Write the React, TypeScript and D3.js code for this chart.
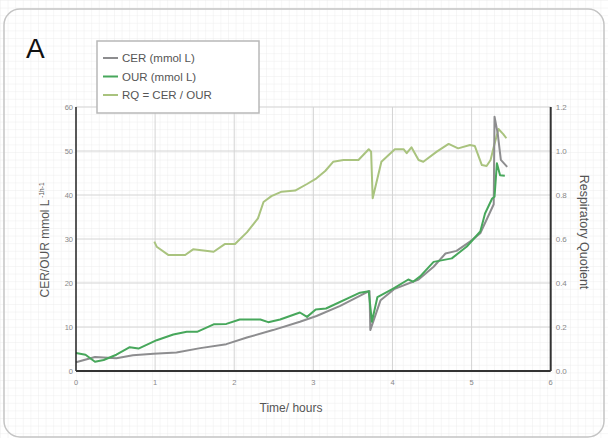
import React from 'react'
import * as d3 from 'd3'

// CER (mmol L-1 h-1) vs time (hours)
const cerTime = [0, 0.24, 0.51, 0.72, 0.98, 1.27, 1.57, 1.9, 2.16, 2.49, 2.83, 3.04, 3.34, 3.71, 3.72, 3.85, 4.02, 4.33, 4.52, 4.67, 4.81, 4.98, 5.11, 5.28, 5.29, 5.33, 5.37, 5.45]
const cerValue = [2.0, 3.2, 2.9, 3.6, 3.9, 4.2, 5.2, 6.1, 7.6, 9.3, 11.2, 12.5, 14.8, 18.2, 9.3, 16.1, 18.6, 20.8, 23.7, 26.7, 27.3, 29.4, 31.3, 37.9, 57.8, 54, 48, 46.4]

// OUR (mmol L-1 h-1) vs time
const ourTime = [0, 0.12, 0.24, 0.35, 0.51, 0.68, 0.79, 1.02, 1.23, 1.4, 1.53, 1.74, 1.9, 2.07, 2.33, 2.43, 2.58, 2.83, 2.92, 3.03, 3.16, 3.59, 3.7, 3.74, 3.81, 4.01, 4.2, 4.26, 4.35, 4.52, 4.75, 4.94, 5.11, 5.17, 5.26, 5.29, 5.32, 5.36, 5.42]
const ourValue = [4.1, 3.7, 2.1, 2.5, 3.7, 5.4, 5.1, 7.0, 8.3, 8.9, 8.9, 10.6, 10.7, 11.7, 11.7, 11.1, 11.7, 13.3, 12.3, 14.0, 14.2, 17.8, 18.1, 11.2, 16.8, 18.7, 20.8, 20.3, 21.5, 24.8, 25.6, 28.3, 31.7, 35.8, 39.2, 39.6, 47.2, 44.5, 44.4]

// RQ = CER / OUR vs time (right axis)
const rqTime = [0.99, 1.02, 1.17, 1.38, 1.48, 1.74, 1.88, 2.01, 2.16, 2.3, 2.37, 2.47, 2.6, 2.77, 2.92, 3.04, 3.15, 3.25, 3.38, 3.57, 3.7, 3.73, 3.75, 3.86, 4.03, 4.14, 4.18, 4.24, 4.33, 4.39, 4.56, 4.71, 4.83, 4.98, 5.04, 5.13, 5.19, 5.24, 5.28, 5.34, 5.4, 5.44]
const rqValue = [0.588, 0.565, 0.527, 0.527, 0.553, 0.542, 0.577, 0.577, 0.63, 0.694, 0.768, 0.795, 0.815, 0.82, 0.85, 0.876, 0.909, 0.951, 0.959, 0.959, 1.008, 0.997, 0.785, 0.951, 1.008, 1.008, 0.99, 1.017, 0.959, 0.951, 0.997, 1.032, 1.012, 1.027, 1.023, 0.936, 0.932, 0.959, 1.018, 1.1, 1.077, 1.058]

const xTicks = [0, 1, 2, 3, 4, 5, 6]
const yTicks = [0, 10, 20, 30, 40, 50, 60]
const rqTicks = [0, 0.2, 0.4, 0.6, 0.8, 1.0, 1.2]

const legendItems = [
  { label: 'CER (mmol L)', color: '#8d8d8f' },
  { label: 'OUR (mmol L)', color: '#47a75b' },
  { label: 'RQ = CER / OUR', color: '#a9c37e' },
]

const W = 608
const H = 438
const FONT = 'Helvetica, Arial, "Liberation Sans", sans-serif'

export default function App() {
  const x = d3.scaleLinear().domain([0, 6]).range([76, 550.7])
  const y = d3.scaleLinear().domain([0, 60]).range([371, 107])
  const yr = d3.scaleLinear().domain([0, 1.2]).range([371, 107])

  const line = d3.line<[number, number]>().x(d => x(d[0])).y(d => y(d[1]))
  const rqLine = d3.line<[number, number]>().x(d => x(d[0])).y(d => yr(d[1]))

  const cer = cerTime.map((t, i) => [t, cerValue[i]] as [number, number])
  const our = ourTime.map((t, i) => [t, ourValue[i]] as [number, number])
  const rq = rqTime.map((t, i) => [t, rqValue[i]] as [number, number])

  const [x0, x1] = x.range()
  const [y0, y1] = y.range()

  return (
    <div style={{ position: 'fixed', left: 0, top: 0 }}>
      <svg width={W} height={H} style={{ display: 'block', fontFamily: FONT }}>
        <defs>
          <pattern id="paper" width={7.6} height={7.6} patternUnits="userSpaceOnUse">
            <path d="M 7.6 0 L 0 0 0 7.6" fill="none" stroke="#e8e8e8" strokeWidth={0.8} />
          </pattern>
        </defs>
        <rect width={W} height={H} fill="#fff" />
        <rect width={W} height={H} fill="url(#paper)" />
        <rect x={4} y={9} width={600} height={428} rx={16} fill="none" stroke="#c4c4c4" strokeWidth={1.5} />

        <text x={26} y={58} fontSize={28} fill="#111">A</text>

        {/* major grid */}
        {xTicks.slice(1, -1).map(t => (
          <line key={'gx' + t} x1={x(t)} x2={x(t)} y1={y1} y2={y0} stroke="#d4d4d4" strokeWidth={1} />
        ))}
        {yTicks.slice(1).map(v => (
          <line key={'gy' + v} x1={x0} x2={x1} y1={y(v)} y2={y(v)} stroke="#d4d4d4" strokeWidth={1} />
        ))}

        {/* series */}
        <path d={rqLine(rq) ?? ''} fill="none" stroke={legendItems[2].color} strokeWidth={2} strokeLinejoin="round" />
        <path d={line(cer) ?? ''} fill="none" stroke={legendItems[0].color} strokeWidth={2} strokeLinejoin="round" />
        <path d={line(our) ?? ''} fill="none" stroke={legendItems[1].color} strokeWidth={2} strokeLinejoin="round" />

        {/* axes */}
        <line x1={x0} x2={x0} y1={y1} y2={y0} stroke="#222" strokeWidth={1.5} />
        <line x1={x1} x2={x1} y1={y1} y2={y0} stroke="#333" strokeWidth={2} />
        <line x1={x0} x2={x1} y1={y0} y2={y0} stroke="#333" strokeWidth={2} />

        {xTicks.map(t => (
          <text key={'xt' + t} x={x(t)} y={y0 + 14} fontSize={7.5} fill="#888" textAnchor="middle">{t}</text>
        ))}
        {yTicks.map(v => (
          <text key={'yt' + v} x={x0 - 3} y={y(v)} dy="0.35em" fontSize={7.5} fill="#888" textAnchor="end">{v}</text>
        ))}
        {rqTicks.map(v => (
          <text key={'rt' + v} x={x1 + 5} y={yr(v)} dy="0.35em" fontSize={8} fill="#888">{v.toFixed(1)}</text>
        ))}

        <text x={291} y={412} fontSize={12} fill="#555" textAnchor="middle">Time/ hours</text>
        <text transform={`translate(49,240) rotate(-90)`} fontSize={12} fill="#555" textAnchor="middle">
          CER/OUR mmol L<tspan fontSize={6.5} dy={-5}> -1h-1</tspan>
        </text>
        <text transform={`translate(580,232) rotate(90)`} fontSize={12.5} fill="#555" textAnchor="middle">Respiratory Quotient</text>

        {/* legend */}
        <rect x={97} y={41} width={162} height={72} fill="#fff" stroke="#b8b8b8" strokeWidth={1.5} />
        {legendItems.map((d, i) => (
          <g key={d.label} transform={`translate(103,${58 + i * 18.5})`}>
            <line x1={0} x2={15} y1={0} y2={0} stroke={d.color} strokeWidth={2} />
            <text x={19} y={0} dy="0.35em" fontSize={11.5} fill="#555">{d.label}</text>
          </g>
        ))}
      </svg>
    </div>
  )
}
